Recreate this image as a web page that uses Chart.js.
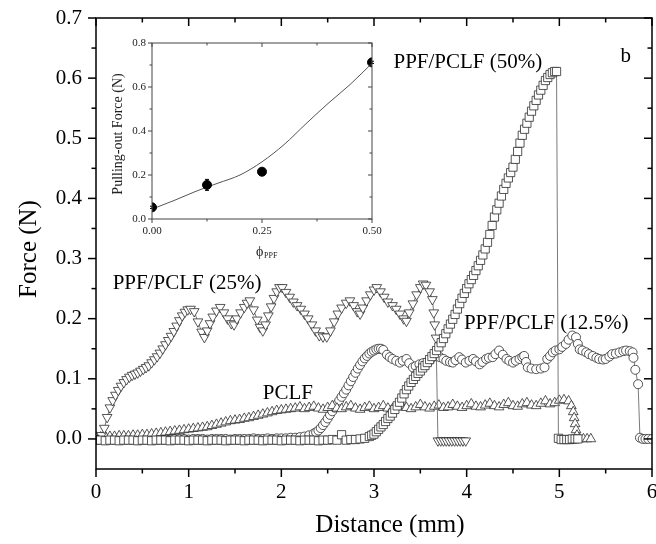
<!DOCTYPE html>
<html>
<head>
<meta charset="utf-8">
<script src="https://cdn.jsdelivr.net/npm/chart.js@4.4.1/dist/chart.umd.min.js"></script>
<style>
	body { margin: 0; background: #fff; }
	#wrap { position: relative; width: 656px; height: 544px; background: #fff; }
	#main { position: absolute; left: 0; top: 0; }
	#inset { position: absolute; left: 100px; top: 30px; }
</style>
</head>
<body>
<div id="wrap">
	<canvas id="main" width="656" height="544"></canvas>
	<canvas id="inset" width="290" height="240"></canvas>
</div>
<script>
// ---- main plot: force vs distance ----
const distTicks = [0, 1, 2, 3, 4, 5, 6];
const distMinor = [0.5, 1.5, 2.5, 3.5, 4.5, 5.5];
const forceTicks = [0, 0.1, 0.2, 0.3, 0.4, 0.5, 0.6, 0.7];
const forceMinor = [0.05, 0.15, 0.25, 0.35, 0.45, 0.55, 0.65];

// PPF/PCLF (50%) - open squares
const sq50X = [0, 0.05, 0.1, 0.15, 0.2, 0.25, 0.3, 0.35, 0.4, 0.45,
	0.5, 0.55, 0.6, 0.65, 0.7, 0.75, 0.8, 0.85, 0.9, 0.95,
	1, 1.05, 1.1, 1.15, 1.2, 1.25, 1.3, 1.35, 1.4, 1.45,
	1.5, 1.55, 1.6, 1.65, 1.7, 1.75, 1.8, 1.85, 1.9, 1.95,
	2, 2.05, 2.1, 2.15, 2.2, 2.25, 2.3, 2.35, 2.4, 2.45,
	2.5, 2.55, 2.6, 2.65, 2.7, 2.75, 2.8, 2.85, 2.9, 2.95, 2.975,
	3.000, 3.025, 3.050, 3.075, 3.100, 3.125, 3.150, 3.175, 3.200, 3.225,
	3.250, 3.275, 3.300, 3.325, 3.350, 3.375, 3.400, 3.425, 3.450, 3.475,
	3.500, 3.525, 3.550, 3.575, 3.600, 3.625, 3.650, 3.675, 3.700, 3.725,
	3.750, 3.775, 3.800, 3.825, 3.850, 3.875, 3.900, 3.925, 3.950, 3.975,
	4.000, 4.025, 4.050, 4.075, 4.100, 4.125, 4.150, 4.175, 4.200, 4.225,
	4.250, 4.275, 4.300, 4.325, 4.350, 4.375, 4.400, 4.425, 4.450, 4.475,
	4.500, 4.525, 4.550, 4.575, 4.600, 4.625, 4.650, 4.675, 4.700, 4.725,
	4.750, 4.775, 4.800, 4.825, 4.850, 4.875, 4.900, 4.925, 4.950, 4.970,
	4.99, 5.02, 5.05, 5.08, 5.11, 5.14, 5.17, 5.20];
const sq50Y = [-0.002, -0.002, -0.003, -0.002, -0.002, -0.003, -0.002, -0.002, -0.002, -0.003,
	-0.002, -0.002, -0.003, -0.002, -0.002, -0.002, -0.003, -0.002, -0.002, -0.002,
	-0.003, -0.002, -0.002, -0.002, -0.003, -0.002, -0.002, -0.002, -0.003, -0.002,
	-0.002, -0.002, -0.003, -0.002, -0.002, -0.002, -0.003, -0.002, -0.002, -0.002,
	-0.003, -0.002, -0.002, -0.002, -0.003, -0.002, -0.002, -0.002, -0.003, -0.002,
	-0.002, -0.001, -0.002, 0.007, -0.002, -0.001, -0.001, 0.000, 0.001, 0.004, 0.006,
	0.008, 0.012, 0.016, 0.020, 0.024, 0.029, 0.034, 0.038, 0.043, 0.049,
	0.055, 0.061, 0.068, 0.075, 0.082, 0.088, 0.094, 0.099, 0.104, 0.109,
	0.113, 0.118, 0.122, 0.127, 0.132, 0.137, 0.142, 0.147, 0.153, 0.160,
	0.167, 0.175, 0.183, 0.191, 0.199, 0.207, 0.216, 0.225, 0.234, 0.242,
	0.250, 0.258, 0.265, 0.272, 0.280, 0.288, 0.297, 0.306, 0.316, 0.327,
	0.340, 0.355, 0.369, 0.381, 0.392, 0.404, 0.415, 0.425, 0.434, 0.443,
	0.452, 0.465, 0.478, 0.492, 0.505, 0.515, 0.525, 0.535, 0.545, 0.554,
	0.563, 0.572, 0.580, 0.588, 0.596, 0.601, 0.606, 0.609, 0.611, 0.611,
	0.001, -0.001, -0.001, -0.001, -0.001, 0.000, 0.000, 0.000];

// PPF/PCLF (25%) - open down triangles
const tri25X = [0, 0.03, 0.06, 0.09, 0.12, 0.15, 0.18, 0.21, 0.24, 0.27,
	0.30, 0.33, 0.36, 0.39, 0.42, 0.45, 0.48, 0.51, 0.54, 0.57,
	0.60, 0.63, 0.66, 0.69, 0.72, 0.75, 0.78, 0.81, 0.84, 0.87,
	0.90, 0.93, 0.96, 0.99, 1.02,
	1.06, 1.10, 1.14, 1.17, 1.20, 1.23, 1.26, 1.30, 1.34, 1.38,
	1.42, 1.46, 1.49, 1.52, 1.56, 1.60, 1.63, 1.66, 1.70, 1.74,
	1.77, 1.80, 1.83, 1.86, 1.89, 1.92, 1.95, 1.98, 2.01, 2.05,
	2.09, 2.13, 2.17, 2.21, 2.25, 2.29, 2.33, 2.37, 2.41, 2.45,
	2.49, 2.53, 2.57, 2.61, 2.65, 2.70, 2.74, 2.78, 2.82, 2.85,
	2.88, 2.92, 2.96, 3.00, 3.03, 3.07, 3.11, 3.15, 3.20, 3.24,
	3.28, 3.32, 3.35, 3.38, 3.42, 3.46, 3.50, 3.53, 3.56, 3.60,
	3.63, 3.645, 3.655, 3.67,
	3.69, 3.72, 3.75, 3.78, 3.81, 3.84, 3.87, 3.90, 3.93, 3.96, 3.99];
const tri25Y = [0.000, 0.001, 0.006, 0.018, 0.036, 0.052, 0.064, 0.073, 0.081, 0.088,
	0.094, 0.099, 0.103, 0.106, 0.108, 0.110, 0.113, 0.116, 0.119, 0.122,
	0.127, 0.132, 0.137, 0.143, 0.150, 0.157, 0.164, 0.171, 0.179, 0.188,
	0.197, 0.205, 0.211, 0.215, 0.216,
	0.212, 0.195, 0.178, 0.169, 0.180, 0.192, 0.203, 0.213, 0.219, 0.210,
	0.200, 0.192, 0.190, 0.200, 0.210, 0.219, 0.226, 0.230, 0.215, 0.198,
	0.186, 0.180, 0.190, 0.205, 0.220, 0.234, 0.245, 0.252, 0.252, 0.244,
	0.236, 0.228, 0.222, 0.216, 0.208, 0.200, 0.190, 0.180, 0.172, 0.170,
	0.170, 0.180, 0.195, 0.208, 0.218, 0.226, 0.230, 0.222, 0.212, 0.208,
	0.218, 0.230, 0.240, 0.248, 0.252, 0.245, 0.236, 0.228, 0.222, 0.216,
	0.208, 0.200, 0.196, 0.210, 0.225, 0.240, 0.252, 0.258, 0.256, 0.245,
	0.232, 0.210, 0.190, 0.168,
	-0.003, -0.003, -0.003, -0.003, -0.003, -0.003, -0.003, -0.003, -0.003, -0.003, -0.003];

// PPF/PCLF (12.5%) - open circles
const cir125X = [0, 0.05, 0.1, 0.15, 0.2, 0.25, 0.3, 0.35, 0.4, 0.45,
	0.5, 0.55, 0.6, 0.65, 0.7, 0.75, 0.8, 0.85, 0.9, 0.95,
	1, 1.05, 1.1, 1.15, 1.2, 1.25, 1.3, 1.35, 1.4, 1.45,
	1.5, 1.55, 1.6, 1.65, 1.7, 1.75, 1.8, 1.85, 1.9, 1.95,
	2, 2.05, 2.1, 2.15, 2.2, 2.25, 2.3, 2.35,
	2.375, 2.400, 2.425, 2.450, 2.475, 2.500, 2.525, 2.550, 2.575, 2.600,
	2.625, 2.650, 2.675, 2.700, 2.725, 2.750, 2.775, 2.800, 2.825, 2.850,
	2.875, 2.900, 2.925, 2.950, 2.975, 3.000, 3.025, 3.050, 3.075, 3.100,
	3.14, 3.17, 3.20, 3.24, 3.28, 3.31, 3.35, 3.38, 3.42, 3.45,
	3.49, 3.53, 3.58, 3.61, 3.65, 3.68, 3.71, 3.75, 3.78, 3.82,
	3.85, 3.88, 3.92, 3.95, 3.99, 4.03, 4.07, 4.10, 4.14, 4.17,
	4.21, 4.24, 4.28, 4.31, 4.35, 4.39, 4.43, 4.46, 4.50, 4.53,
	4.57, 4.60, 4.62, 4.64, 4.66, 4.70, 4.75, 4.80, 4.84, 4.87,
	4.90, 4.93, 4.96, 5.00, 5.03, 5.07, 5.10, 5.14, 5.18, 5.20,
	5.22, 5.25, 5.29, 5.32, 5.36, 5.40, 5.43, 5.47, 5.50, 5.54,
	5.57, 5.61, 5.65, 5.69, 5.72, 5.76, 5.79, 5.80, 5.82, 5.85,
	5.87, 5.90, 5.93, 5.96, 6.00];
const cir125Y = [0.000, 0.000, -0.001, 0.000, 0.000, -0.001, 0.000, 0.000, 0.000, -0.001,
	0.000, 0.000, -0.001, 0.000, 0.000, 0.000, -0.001, 0.000, 0.000, 0.000,
	-0.001, 0.000, 0.000, 0.000, -0.001, 0.000, 0.000, 0.000, 0.000, -0.001,
	0.000, 0.000, 0.000, 0.000, 0.001, 0.000, 0.000, 0.001, 0.000, 0.001,
	0.001, 0.001, 0.002, 0.002, 0.003, 0.004, 0.006, 0.009,
	0.011, 0.014, 0.018, 0.023, 0.028, 0.034, 0.040, 0.046, 0.052, 0.058,
	0.064, 0.070, 0.076, 0.082, 0.089, 0.096, 0.103, 0.110, 0.117, 0.123,
	0.129, 0.134, 0.138, 0.142, 0.145, 0.147, 0.149, 0.150, 0.150, 0.148,
	0.140, 0.136, 0.133, 0.130, 0.127, 0.130, 0.133, 0.126, 0.119, 0.121,
	0.124, 0.126, 0.127, 0.132, 0.138, 0.138, 0.136, 0.133, 0.130, 0.128,
	0.127, 0.131, 0.136, 0.132, 0.127, 0.130, 0.133, 0.129, 0.124, 0.128,
	0.133, 0.135, 0.136, 0.141, 0.147, 0.140, 0.133, 0.130, 0.127, 0.130,
	0.133, 0.136, 0.138, 0.128, 0.119, 0.117, 0.116, 0.117, 0.119, 0.133,
	0.138, 0.144, 0.147, 0.149, 0.153, 0.158, 0.165, 0.172, 0.169, 0.158,
	0.149, 0.147, 0.144, 0.141, 0.138, 0.135, 0.133, 0.132, 0.133, 0.137,
	0.141, 0.142, 0.144, 0.146, 0.147, 0.146, 0.144, 0.135, 0.115, 0.091,
	0.002, 0.000, 0.000, 0.000, 0.000];

// PCLF - open up triangles
const pclfX = [0, 0.05, 0.1, 0.15, 0.2, 0.25, 0.3, 0.35, 0.4, 0.45,
	0.5, 0.55, 0.6, 0.65, 0.7, 0.75, 0.8, 0.85, 0.9, 0.95,
	1, 1.05, 1.1, 1.15, 1.2, 1.25, 1.3, 1.35, 1.4, 1.45,
	1.5, 1.55, 1.6, 1.65, 1.7, 1.75, 1.8, 1.85, 1.9, 1.95,
	2, 2.05, 2.1, 2.15, 2.2, 2.25, 2.3, 2.35, 2.4, 2.45,
	2.5, 2.55, 2.6, 2.65, 2.7, 2.75, 2.8, 2.85, 2.9, 2.95,
	3, 3.05, 3.1, 3.15, 3.2, 3.25, 3.3, 3.35, 3.4, 3.45,
	3.5, 3.55, 3.6, 3.65, 3.7, 3.75, 3.8, 3.85, 3.9, 3.95,
	4, 4.05, 4.1, 4.15, 4.2, 4.25, 4.3, 4.35, 4.4, 4.45,
	4.5, 4.55, 4.6, 4.65, 4.7, 4.75, 4.8, 4.85, 4.9, 4.95,
	5, 5.05, 5.1, 5.13, 5.15, 5.16, 5.17, 5.18, 5.19, 5.22,
	5.26, 5.30, 5.34];
const pclfY = [0.003, 0.003, 0.004, 0.004, 0.004, 0.005, 0.005, 0.005, 0.006, 0.006,
	0.007, 0.007, 0.008, 0.009, 0.010, 0.011, 0.012, 0.013, 0.014, 0.015,
	0.016, 0.017, 0.018, 0.019, 0.020, 0.022, 0.024, 0.026, 0.028, 0.030,
	0.031, 0.032, 0.034, 0.035, 0.037, 0.039, 0.041, 0.043, 0.045, 0.047,
	0.048, 0.049, 0.050, 0.051, 0.053, 0.050, 0.052, 0.054, 0.051, 0.049,
	0.052, 0.055, 0.051, 0.050, 0.053, 0.055, 0.051, 0.049, 0.052, 0.054,
	0.050, 0.052, 0.055, 0.051, 0.050, 0.053, 0.056, 0.052, 0.050, 0.053,
	0.057, 0.053, 0.051, 0.054, 0.056, 0.052, 0.053, 0.057, 0.054, 0.052,
	0.055, 0.058, 0.054, 0.053, 0.056, 0.059, 0.055, 0.053, 0.057, 0.060,
	0.055, 0.054, 0.058, 0.060, 0.056, 0.055, 0.059, 0.063, 0.058, 0.060,
	0.064, 0.065, 0.063, 0.055, 0.045, 0.035, 0.025, 0.015, 0.006, 0.000,
	0.000, 0.000, 0.000];

// text on the main plot
const noteText = ["PPF/PCLF (50%)", "PPF/PCLF (25%)", "PCLF", "PPF/PCLF (12.5%)", "b"];
const noteX = [3.21, 0.18, 1.80, 3.97, 5.66];
const noteY = [0.617, 0.250, 0.067, 0.183, 0.627];

// ---- inset: pulling-out force vs PPF fraction ----
const phiTicks = [0, 0.25, 0.5];
const phiMinor = [0.125, 0.375];
const pullTicks = [0, 0.2, 0.4, 0.6, 0.8];
const pullMinor = [0.1, 0.3, 0.5, 0.7];
const phiPts = [0, 0.125, 0.25, 0.5];
const pullPts = [0.053, 0.155, 0.215, 0.712];
const pullErr = [0.005, 0.025, 0.005, 0.005];
const fitPhi = [0, 0.05, 0.1, 0.15, 0.2, 0.25, 0.3, 0.35, 0.4, 0.45, 0.5];
const fitPull = [0.045, 0.084, 0.126, 0.163, 0.200, 0.260, 0.338, 0.433, 0.525, 0.611, 0.708];

const SERIF = "'Liberation Serif', 'Times New Roman', serif";

function toPts(xs, ys) {
	return xs.map((x, i) => ({ x: x, y: ys[i] }));
}

function series(label, xs, ys, style, radius, rotation, order) {
	return {
		label: label,
		order: order,
		data: toPts(xs, ys),
		borderColor: "#7a7a7a",
		borderWidth: 1,
		pointStyle: style,
		pointRadius: radius,
		pointRotation: rotation,
		pointBackgroundColor: "#fff",
		pointBorderColor: "#2b2b2b",
		pointBorderWidth: 0.8,
		tension: 0,
		fill: false
	};
}

// frame + tick marks (left/bottom outward, top/right inward)
const frameTicks = {
	id: "frameTicks",
	afterDraw(chart, args, o) {
		let ctx = chart.ctx;
		let a = chart.chartArea;
		let xs = chart.scales.x;
		let ys = chart.scales.y;
		ctx.save();
		ctx.strokeStyle = o.color;
		ctx.lineWidth = o.width;
		function seg(x1, y1, x2, y2) {
			ctx.beginPath();
			ctx.moveTo(x1, y1);
			ctx.lineTo(x2, y2);
			ctx.stroke();
		}
		function xMarks(vals, len) {
			vals.forEach(v => {
				let p = xs.getPixelForValue(v);
				seg(p, a.bottom, p, a.bottom + len);
				seg(p, a.top, p, a.top + len);
			});
		}
		function yMarks(vals, len) {
			vals.forEach(v => {
				let p = ys.getPixelForValue(v);
				seg(a.left - len, p, a.left, p);
				seg(a.right - len, p, a.right, p);
			});
		}
		xMarks(o.xMajor, o.major);
		xMarks(o.xMinor, o.minor);
		yMarks(o.yMajor, o.major);
		yMarks(o.yMinor, o.minor);
		ctx.strokeRect(a.left, a.top, a.right - a.left, a.bottom - a.top);
		ctx.restore();
	}
};

const mainText = {
	id: "mainText",
	afterDraw(chart) {
		let ctx = chart.ctx;
		let a = chart.chartArea;
		let xs = chart.scales.x;
		let ys = chart.scales.y;
		ctx.save();
		ctx.fillStyle = "#000";
		// x tick labels (drawn here so the last one may run off the canvas)
		ctx.font = "21px " + SERIF;
		ctx.textAlign = "center";
		ctx.textBaseline = "middle";
		distTicks.forEach(v => {
			ctx.fillText(String(v), xs.getPixelForValue(v), a.bottom + 23);
		});
		ctx.textBaseline = "alphabetic";
		ctx.textAlign = "left";
		noteText.forEach((t, i) => {
			ctx.fillText(t, xs.getPixelForValue(noteX[i]), ys.getPixelForValue(noteY[i]));
		});
		ctx.font = "25px " + SERIF;
		ctx.textAlign = "center";
		ctx.textBaseline = "middle";
		ctx.fillText("Distance (mm)", 390, 525);
		ctx.translate(29, 249);
		ctx.rotate(-Math.PI / 2);
		ctx.fillText("Force (N)", 0, 0);
		ctx.restore();
	}
};

const insetText = {
	id: "insetText",
	beforeDatasetsDraw(chart) {
		let ctx = chart.ctx;
		let xs = chart.scales.x;
		let ys = chart.scales.y;
		ctx.save();
		ctx.strokeStyle = "#000";
		ctx.lineWidth = 1;
		phiPts.forEach((p, i) => {
			let px = xs.getPixelForValue(p);
			let lo = ys.getPixelForValue(pullPts[i] - pullErr[i]);
			let hi = ys.getPixelForValue(pullPts[i] + pullErr[i]);
			ctx.beginPath();
			ctx.moveTo(px, lo);
			ctx.lineTo(px, hi);
			ctx.moveTo(px - 2, lo);
			ctx.lineTo(px + 2, lo);
			ctx.moveTo(px - 2, hi);
			ctx.lineTo(px + 2, hi);
			ctx.stroke();
		});
		ctx.restore();
	},
	afterDraw(chart) {
		let ctx = chart.ctx;
		ctx.save();
		ctx.fillStyle = "#222";
		ctx.textBaseline = "alphabetic";
		ctx.textAlign = "left";
		ctx.font = "14px " + SERIF;
		ctx.fillText("\u03d5", 156, 226);
		ctx.font = "8px " + SERIF;
		ctx.fillText("PPF", 164, 228);
		ctx.font = "14px " + SERIF;
		ctx.textAlign = "center";
		ctx.textBaseline = "middle";
		ctx.translate(18, 104);
		ctx.rotate(-Math.PI / 2);
		ctx.fillText("Pulling-out Force (N)", 0, 0);
		ctx.restore();
	}
};

new Chart(document.getElementById("main"), {
	type: "line",
	data: {
		datasets: [
			series("PPF/PCLF (12.5%)", cir125X, cir125Y, "circle", 4.5, 0, 4),
			series("PCLF", pclfX, pclfY, "triangle", 5.6, 0, 3),
			series("PPF/PCLF (25%)", tri25X, tri25Y, "triangle", 5.6, 180, 2),
			series("PPF/PCLF (50%)", sq50X, sq50Y, "rect", 5.8, 0, 1)
		]
	},
	options: {
		responsive: false,
		animation: false,
		devicePixelRatio: 1,
		events: [],
		layout: { autoPadding: false, padding: { top: 18, right: 4, left: 0, bottom: 0 } },
		plugins: {
			legend: { display: false },
			tooltip: { enabled: false },
			frameTicks: {
				color: "#000", width: 1.5, major: 8, minor: 4.5,
				xMajor: distTicks, xMinor: distMinor, yMajor: forceTicks, yMinor: forceMinor
			}
		},
		scales: {
			x: {
				type: "linear",
				min: 0,
				max: 6,
				afterBuildTicks: s => { s.ticks = distTicks.map(v => ({ value: v })); },
				afterFit: s => { s.height = 75; s.paddingLeft = 0; s.paddingRight = 0; },
				grid: { display: false, drawTicks: false },
				border: { display: false },
				ticks: { display: false }
			},
			y: {
				type: "linear",
				min: -0.05,
				max: 0.7,
				afterBuildTicks: s => { s.ticks = forceTicks.map(v => ({ value: v })); },
				afterFit: s => { s.width = 96; s.paddingTop = 0; s.paddingBottom = 0; },
				grid: { display: false, drawTicks: true, tickLength: 9 },
				border: { display: false },
				ticks: {
					color: "#000",
					font: { family: SERIF, size: 21 },
					padding: 5,
					autoSkip: false,
					callback: v => v.toFixed(1)
				}
			}
		}
	},
	plugins: [frameTicks, mainText]
});

new Chart(document.getElementById("inset"), {
	type: "line",
	data: {
		datasets: [
			{
				data: toPts(fitPhi, fitPull),
				borderColor: "#555",
				borderWidth: 1,
				pointRadius: 0,
				cubicInterpolationMode: "monotone",
				fill: false,
				order: 2
			},
			{
				data: toPts(phiPts, pullPts),
				showLine: false,
				pointRadius: 4.5,
				pointBackgroundColor: "#000",
				pointBorderColor: "#000",
				order: 1
			}
		]
	},
	options: {
		responsive: false,
		animation: false,
		devicePixelRatio: 1,
		events: [],
		layout: { autoPadding: false, padding: { top: 13, right: 18, left: 0, bottom: 0 } },
		plugins: {
			legend: { display: false },
			tooltip: { enabled: false },
			frameTicks: {
				color: "#444", width: 1, major: 4, minor: 2.5,
				xMajor: phiTicks, xMinor: phiMinor, yMajor: pullTicks, yMinor: pullMinor
			}
		},
		scales: {
			x: {
				type: "linear",
				min: 0,
				max: 0.5,
				afterBuildTicks: s => { s.ticks = phiTicks.map(v => ({ value: v })); },
				afterFit: s => { s.height = 51; s.paddingLeft = 0; s.paddingRight = 0; },
				grid: { display: false, drawTicks: true, tickLength: 4 },
				border: { display: false },
				ticks: {
					color: "#222",
					font: { family: SERIF, size: 11 },
					padding: 2,
					maxRotation: 0,
					autoSkip: false,
					callback: v => v.toFixed(2)
				}
			},
			y: {
				type: "linear",
				min: 0,
				max: 0.8,
				afterBuildTicks: s => { s.ticks = pullTicks.map(v => ({ value: v })); },
				afterFit: s => { s.width = 52; s.paddingTop = 0; s.paddingBottom = 0; },
				grid: { display: false, drawTicks: true, tickLength: 4 },
				border: { display: false },
				ticks: {
					color: "#222",
					font: { family: SERIF, size: 11 },
					padding: 2,
					autoSkip: false,
					callback: v => v.toFixed(1)
				}
			}
		}
	},
	plugins: [frameTicks, insetText]
});
</script>
</body>
</html>
